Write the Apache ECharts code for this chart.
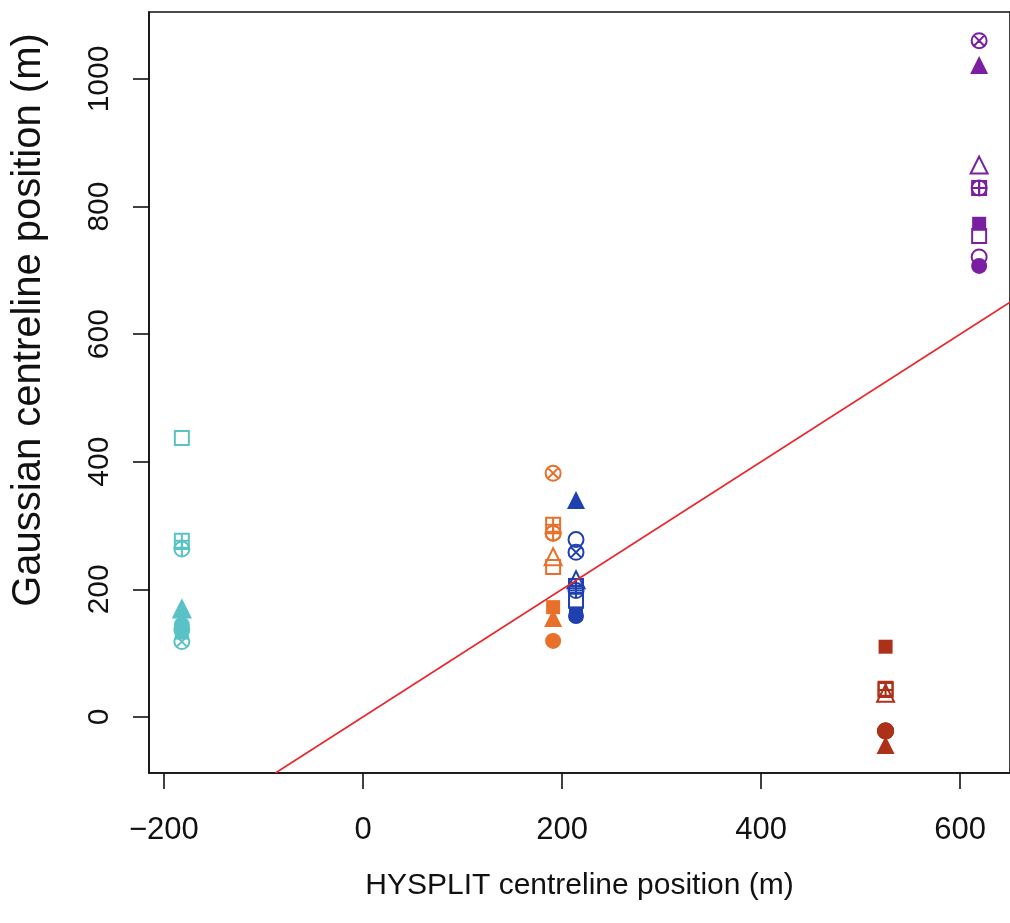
<!DOCTYPE html>
<html>
<head>
<meta charset="utf-8">
<script src="https://cdn.jsdelivr.net/npm/echarts@6/dist/echarts.min.js"></script>
<style>html,body{margin:0;padding:0;background:#fff;}#c{width:1010px;height:923px;}</style>
</head>
<body>
<div id="c"></div>
<script>
// ---- data ----
// HYSPLIT centreline position (m) of each case (cyan, orange, blue, dark red, purple)
const caseX = [-182, 191, 214, 525, 619];
// Gaussian centreline position (m) for each marker type, one value per case
const openSquare     = [437, 235, 182, 44, 754];
const openCircle     = [137, 288, 278, -22, 721];
const openTriangle   = [169, 251, 215, 37, 865];
const circleCross    = [118, 382, 258, -22, 1060];
const squarePlus     = [276, 301, 205, 42, 829];
const circlePlus     = [263, 288, 198, -22, 829];
const filledSquare   = [132, 172, 162, 110, 773];
const filledCircle   = [144, 119, 158, -22, 707];
const filledTriangle = [169, 155, 340, -44, 1022];
// 1:1 line
const identityLine = [[-88, -88], [650, 650]];
const xTicks = [-200, 0, 200, 400, 600];
const yTicks = [0, 200, 400, 600, 800, 1000];

// ---- styles ----
const caseColors = ['#58c2c7', '#e8702a', '#1f40b0', '#ad3018', '#7a1fa2'];
const P_CROSS = 'path://M0,10A10,10 0 1,0 20,10A10,10 0 1,0 0,10ZM2.93,2.93L17.07,17.07M17.07,2.93L2.93,17.07';
const P_SQPLUS = 'path://M0,0L20,0L20,20L0,20ZM10,0L10,20M0,10L20,10';
const P_CIRPLUS = 'path://M0,10A10,10 0 1,0 20,10A10,10 0 1,0 0,10ZM10,0L10,20M0,10L20,10';

const markers = [
  {vals: openSquare, symbol: 'rect', size: 14, open: true},
  {vals: openCircle, symbol: 'circle', size: 15, open: true},
  {vals: openTriangle, symbol: 'triangle', size: 17, open: true},
  {vals: circleCross, symbol: P_CROSS, size: 15, open: true},
  {vals: squarePlus, symbol: P_SQPLUS, size: 14, open: true},
  {vals: circlePlus, symbol: P_CIRPLUS, size: 15, open: true},
  {vals: filledSquare, symbol: 'rect', size: 14, open: false},
  {vals: filledCircle, symbol: 'circle', size: 16, open: false},
  {vals: filledTriangle, symbol: 'triangle', size: 18, open: false}
];

const series = markers.map(m => ({
  type: 'scatter',
  symbol: m.symbol,
  symbolSize: m.size,
  silent: true,
  data: m.vals.map((v, i) => ({
    value: [caseX[i], v],
    itemStyle: m.open
      ? {color: 'rgba(0,0,0,0)', borderColor: caseColors[i], borderWidth: 2, opacity: 1}
      : {color: caseColors[i], borderWidth: 0, opacity: 1}
  }))
}));
series.unshift({
  type: 'line',
  data: identityLine,
  symbol: 'none',
  silent: true,
  clip: true,
  lineStyle: {color: '#e8262c', width: 1.6}
});

const font = 'Liberation Sans, Arial, sans-serif';
const chart = echarts.init(document.getElementById('c'), null, {renderer: 'canvas'});
chart.setOption({
  animation: false,
  backgroundColor: '#fff',
  grid: {left: 149, top: 12, width: 869, height: 761, show: true, borderColor: '#111', borderWidth: 1.6, backgroundColor: 'rgba(0,0,0,0)'},
  xAxis: {
    type: 'value', min: -215, max: 650,
    name: 'HYSPLIT centreline position (m)', nameLocation: 'middle', nameGap: 98,
    nameTextStyle: {fontFamily: font, fontSize: 30, color: '#111'},
    axisLine: {show: true, onZero: false, lineStyle: {color: '#111', width: 1.6}},
    axisTick: {show: true, length: 16, customValues: xTicks, lineStyle: {color: '#111', width: 1.6}},
    axisLabel: {customValues: xTicks, margin: 42, fontFamily: font, fontSize: 31, color: '#111',
      formatter: v => (v < 0 ? '\u2212' + Math.abs(v) : String(v))},
    splitLine: {show: false}
  },
  yAxis: {
    type: 'value', min: -88, max: 1105,
    axisLine: {show: true, onZero: false, lineStyle: {color: '#111', width: 1.6}},
    axisTick: {show: true, length: 16, customValues: yTicks, lineStyle: {color: '#111', width: 1.6}},
    axisLabel: {customValues: yTicks, rotate: 90, margin: 34, fontFamily: font, fontSize: 30, color: '#111',
      formatter: v => String(v)},
    splitLine: {show: false}
  },
  graphic: [{
    type: 'text', x: 29, y: 320, rotation: Math.PI / 2,
    style: {text: 'Gaussian centreline position (m)', fontFamily: font, fontSize: 40, fill: '#111', align: 'center', verticalAlign: 'middle'}
  }],
  series: series
});
</script>
</body>
</html>
